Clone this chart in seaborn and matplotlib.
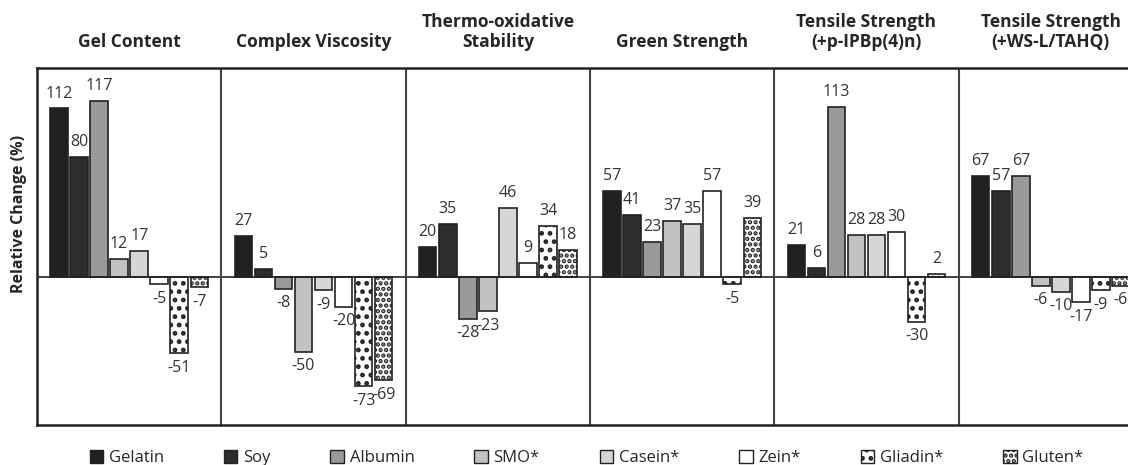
import pandas as pd
import seaborn as sns
import matplotlib.pyplot as plt
from matplotlib.patches import Patch

properties = ["Gel Content", "Complex Viscosity", "Thermo-oxidative\nStability",
              "Green Strength", "Tensile Strength\n(+p-IPBp(4)n)", "Tensile Strength\n(+WS-L/TAHQ)"]
materials = ["Gelatin", "Soy", "Albumin", "SMO*", "Casein*", "Zein*", "Gliadin*", "Gluten*"]

gelatin = [112, 27, 20, 57, 21, 67]
soy = [80, 5, 35, 41, 6, 57]
albumin = [117, -8, -28, 23, 113, 67]
smo = [12, -50, -23, 37, 28, -6]
casein = [17, -9, 46, 35, 28, -10]
zein = [-5, -20, 9, 57, 30, -17]
gliadin = [-51, -73, 34, -5, -30, -9]
gluten = [-7, -69, 18, 39, 2, -6]

colors = ["#231f20", "#2e2c2d", "#9a9a9a", "#c2c2c2", "#d6d6d6", "#ffffff", "#ffffff", "#ffffff"]
hatches = [None, None, None, None, None, None, "..", "..."]

series = [gelatin, soy, albumin, smo, casein, zein, gliadin, gluten]
rows = []
for m, vals in zip(materials, series):
    for p, v in zip(properties, vals):
        rows.append({"property": p, "material": m, "value": v})
df = pd.DataFrame(rows)

sns.set_style("white")
plt.rcParams["font.family"] = ["Open Sans", "DejaVu Sans"]
plt.rcParams["hatch.linewidth"] = 2.2

fig = plt.figure(figsize=(11.28, 4.65), dpi=100)
ax = fig.add_axes([37 / 1128, 40 / 465, 1106 / 1128, 357 / 465])

sns.barplot(data=df, x="property", y="value", hue="material", order=properties,
            hue_order=materials, palette=dict(zip(materials, colors)),
            width=0.87, gap=0.12, edgecolor="#222222", linewidth=1.2,
            legend=False, ax=ax)

for cont, h in zip(ax.containers, hatches):
    if h:
        for bar in cont:
            bar.set_hatch(h)
    ax.bar_label(cont, fmt="%d", padding=5, fontsize=11.5, color="#333333")

ax.set_xlim(-0.5, 5.5)
ax.set_ylim(-99, 139)
ax.axhline(0, color="#222222", lw=1.2)
for x in range(5):
    ax.axvline(x + 0.5, color="#444444", lw=1.5)

ax.xaxis.tick_top()
ax.tick_params(axis="x", length=0, pad=12)
for lbl in ax.get_xticklabels():
    lbl.set_fontweight("bold")
    lbl.set_fontsize(12.5)
ax.set_xlabel("")
ax.set_yticks([])
ax.set_ylabel("Relative Change (%)", fontweight="bold", fontsize=11.5)
ax.yaxis.set_label_coords(-0.009, 0.59)
for s in ax.spines.values():
    s.set_color("#222222")
    s.set_linewidth(1.8)

handles = [Patch(facecolor=c, edgecolor="#222222", hatch=h) for c, h in zip(colors, hatches)]
fig.legend(handles, materials, loc="lower center", bbox_to_anchor=(0.52, -0.035), ncol=8,
           frameon=False, fontsize=12, handlelength=0.8, handleheight=0.8,
           handletextpad=0.35, columnspacing=3.6)

plt.savefig("out.png", dpi=100)
plt.close()
